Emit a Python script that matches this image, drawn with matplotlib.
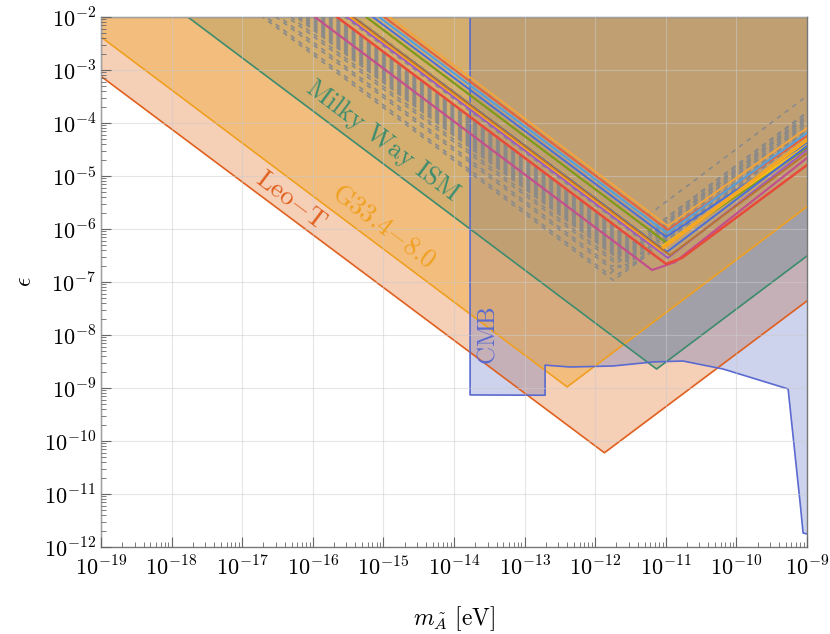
import matplotlib
matplotlib.use("Agg")
import matplotlib.pyplot as plt
import numpy as np
from matplotlib.ticker import LogLocator, FuncFormatter, NullFormatter

plt.rcParams['mathtext.fontset'] = 'cm'

# --- bounds (eV, epsilon) ---
leo_m = [1e-19, 1.35e-12, 1e-9]
leo_eps = [7.6e-4, 6.0e-11, 4.4e-8]

g33_m = [1e-19, 4.0e-13, 1e-9]
g33_eps = [4.2e-3, 1.05e-9, 2.64e-6]

mw_m = [1e-19, 7.4e-12, 1e-9]
mw_eps = [1.7e-1, 2.28e-9, 3.1e-7]

cmb_m = [1.69e-14, 1.69e-14, 1.95e-13, 1.95e-13, 4.4e-13, 1.79e-12, 6.6e-12,
         1.75e-11, 6.5e-11, 5.4e-10, 8.1e-10, 8.8e-10, 1e-9]
cmb_eps = [1e-2, 7.4e-10, 7.3e-10, 2.7e-9, 2.49e-9, 2.6e-9, 3.1e-9,
           3.23e-9, 2.28e-9, 9.6e-10, 5.7e-12, 1.84e-12, 1.76e-12]

# coloured model curves (start at the top edge, vertex, end at right edge)
model_colors = ['#f2a53c', '#e8603c', '#5aa0d8', '#4a6fd8', '#7f9a1a', '#f6c21a',
                '#4a6fd8', '#f5a623', '#9d5bc0', '#b87333', '#c2508c', '#e84a3a']
model_lw = [1.4, 1.4, 1.6, 1.4, 1.6, 1.4, 1.4, 2.6, 1.4, 1.4, 1.6, 1.8]
model_m = [
    [1.22e-15, 1.07e-11, 1e-9],
    [1.03e-15, 1.07e-11, 1e-9],
    [8.7e-16, 1.04e-11, 1e-9],
    [7.1e-16, 1.01e-11, 1e-9],
    [5.7e-16, 1.04e-11, 1e-9],
    [3.9e-16, 8.6e-12, 1e-9],
    [3.8e-16, 1.04e-11, 1e-9],
    [3.3e-16, 8.3e-12, 1e-9],
    [3.05e-16, 1.07e-11, 1e-9],
    [3.7e-16, 1.15e-11, 1e-9],
    [1.07e-16, 6.4e-12, 1.35e-11, 1e-9],
    [2.2e-16, 1.01e-11, 1.69e-11, 1e-9],
]
model_eps = [
    [1e-2, 1.14e-6, 8.05e-5],
    [1e-2, 9.6e-7, 5.7e-5],
    [1e-2, 8.4e-7, 6.5e-5],
    [1e-2, 7.1e-7, 4.2e-5],
    [1e-2, 5.4e-7, 3.4e-5],
    [1e-2, 4.6e-7, 3.85e-5],
    [1e-2, 3.7e-7, 3.7e-5],
    [1e-2, 4.0e-7, 4.8e-5],
    [1e-2, 2.84e-7, 3.1e-5],
    [1e-2, 3.2e-7, 2.7e-5],
    [1e-2, 1.68e-7, 2.38e-7, 2.19e-5],
    [1e-2, 2.19e-7, 2.84e-7, 1.61e-5],
]

# grey dashed scan curves, log10 values:
# m where the falling branch leaves the top edge, vertex m, vertex eps, eps at 1e-9 eV
gray_top = [-16.71, -16.66, -16.52, -16.47, -16.36, -16.31,
            -16.24, -16.21, -16.18, -16.15, -16.12, -16.09, -16.06, -16.03,
            -16.00, -15.97, -15.94, -15.91, -15.88, -15.85, -15.82, -15.79,
            -15.76, -15.73, -15.70, -15.55, -15.40, -15.25, -14.99]
gray_vx = [-11.74, -11.805, -11.67, -11.76, -11.62, -11.73,
           -11.51, -11.605, -11.69, -11.52, -11.61, -11.435, -11.53, -11.615,
           -11.445, -11.535, -11.36, -11.455, -11.54, -11.37, -11.46, -11.285,
           -11.38, -11.465, -11.295, -11.30, -11.125, -11.185, -11.25]
gray_vy = [-6.97, -6.855, -6.85, -6.71, -6.74, -6.58,
           -6.73, -6.605, -6.49, -6.63, -6.51, -6.655, -6.53, -6.415,
           -6.555, -6.435, -6.58, -6.455, -6.34, -6.48, -6.36, -6.505,
           -6.38, -6.265, -6.405, -6.25, -6.275, -6.065, -5.74]
gray_right = [-4.23, -4.05, -4.18, -3.95, -4.12, -3.85,
              -4.22, -4.00, -3.80, -4.11, -3.90, -4.22, -4.00, -3.80,
              -4.11, -3.90, -4.22, -4.00, -3.80, -4.11, -3.90, -4.22,
              -4.00, -3.80, -4.11, -3.95, -4.15, -3.88, -3.49]

fig = plt.figure(figsize=(8.3, 6.34), dpi=100)
ax = fig.add_axes([101 / 830, 87 / 634, 706 / 830, 530 / 634])
ax.set_xscale('log')
ax.set_yscale('log')
ax.set_xlim(1e-19, 1e-9)
ax.set_ylim(1e-12, 1e-2)

# filled regions (order matters for the colour mixing)
ax.fill_between(leo_m, leo_eps, 1.0, color='#e87631', alpha=0.35, lw=0, zorder=1)
ax.fill_between(mw_m, mw_eps, 1.0, color='#4a826e', alpha=0.30, lw=0, zorder=1)
ax.fill(cmb_m + [1e-9, 1.69e-14], cmb_eps + [1.0, 1.0], color='#4c62bb', alpha=0.28,
        lw=0, zorder=1)
ax.fill_between(g33_m, g33_eps, 1.0, color='#efa226', alpha=0.40, lw=0, zorder=1)

ax.plot(leo_m, leo_eps, color='#e0601e', lw=1.2, zorder=2)
ax.plot(g33_m, g33_eps, color='#f0a020', lw=1.2, zorder=2)
ax.plot(mw_m, mw_eps, color='#3d8c6e', lw=1.2, zorder=2)
ax.plot(cmb_m, cmb_eps, color='#5a6ad0', lw=1.2, zorder=2)

# grey dashed curves, dash phase matched so the dashes line up in columns
g_lw = 1.2
x_ref = ax.transData.transform((1e-19, 1e-2))[0]
for t, vx, vy, r in zip(gray_top, gray_vx, gray_vy, gray_right):
    xs = [10.0 ** t, 10.0 ** vx, 1e-9]
    ys = [1e-2, 10.0 ** vy, 10.0 ** r]
    p0 = ax.transData.transform((xs[0], ys[0]))
    p1 = ax.transData.transform((xs[1], ys[1]))
    k = np.hypot(*(p1 - p0)) / abs(p1[0] - p0[0])
    off = (p0[0] - x_ref) * k / (g_lw * fig.dpi / 72)
    ax.plot(xs, ys, color='#8a8a8a', lw=g_lw, linestyle=(off, (2.8, 2.9)), zorder=3)

for xs, ys, c, w in zip(model_m, model_eps, model_colors, model_lw):
    ax.plot(xs, ys, color=c, lw=w, zorder=4, solid_joinstyle='round')

# labels on the bounds
rot = -36.9
ax.text(4.9e-17, 3.4e-6, r'$\mathrm{Leo{-}T}$', color='#e0601e', fontsize=19,
        rotation=rot, ha='center', va='center', rotation_mode='anchor', zorder=5)
ax.text(1.0e-15, 1.15e-6, r'$\mathrm{G33.4{-}8.0}$', color='#f0a020', fontsize=19,
        rotation=rot, ha='center', va='center', rotation_mode='anchor', zorder=5)
ax.text(9.9e-16, 4.6e-5, r'$\mathrm{Milky\ Way\ ISM}$', color='#3d8c6e', fontsize=19,
        rotation=rot, ha='center', va='center', rotation_mode='anchor', zorder=5)
ax.text(2.95e-14, 1.0e-8, r'$\mathrm{CMB}$', color='#5a6ad0', fontsize=18,
        rotation=90, ha='center', va='center', rotation_mode='anchor', zorder=5)

# axes styling
fmt = FuncFormatter(lambda v, p: r'$10^{%d}$' % int(round(np.log10(v))))
for axis in (ax.xaxis, ax.yaxis):
    axis.set_major_locator(LogLocator(base=10, numticks=30))
    axis.set_minor_locator(LogLocator(base=10, subs=np.arange(2, 10), numticks=200))
    axis.set_major_formatter(fmt)
    axis.set_minor_formatter(NullFormatter())
ax.tick_params(which='both', direction='in', colors='#666666', labelcolor='black',
               labelsize=16, top=False, right=False)
ax.tick_params(which='major', length=7, width=0.8)
ax.tick_params(which='minor', length=3.5, width=0.6)
ax.tick_params(axis='x', pad=6)
for s in ax.spines.values():
    s.set_color('#777777')
    s.set_linewidth(1.0)
ax.grid(True, which='major', color='#cccccc', alpha=0.5, lw=0.8)
ax.set_axisbelow(False)

ax.set_xlabel(r'$m_{\tilde{A}}\ [\mathrm{eV}]$', fontsize=17, labelpad=18)
ax.set_ylabel(r'$\epsilon$', fontsize=17)
ax.yaxis.set_label_coords(-0.092, 0.5)

fig.savefig('out.png', dpi=100)
